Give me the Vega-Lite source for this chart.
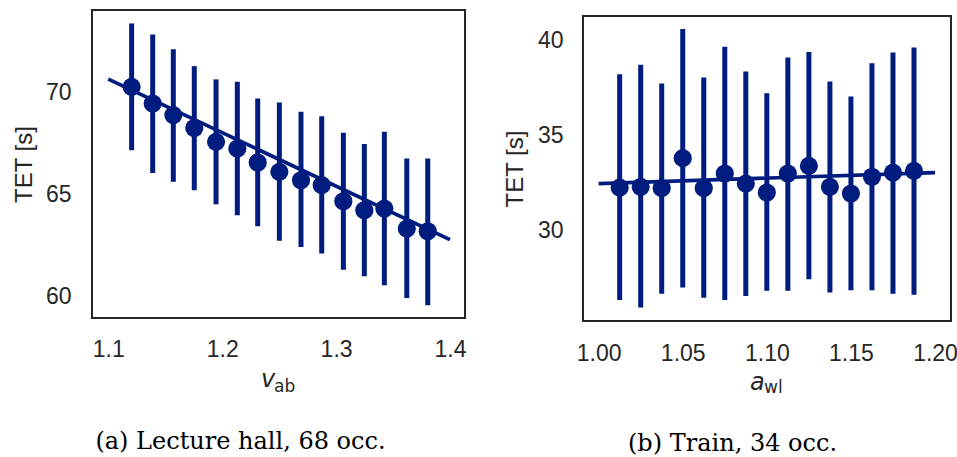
{
  "$schema": "https://vega.github.io/schema/vega-lite/v6.json",
  "background": "white",
  "padding": {"left": 11, "top": 9, "right": 0, "bottom": 0},
  "spacing": 35,
  "config": {
    "view": {"stroke": "#262626", "strokeWidth": 2},
    "axis": {"grid": false, "domain": false, "ticks": false, "tickSize": 0}
  },
  "datasets": {
    "lecture": [
      {"x": 1.1205, "mean": 70.28, "lo": 67.18, "hi": 73.39},
      {"x": 1.1390, "mean": 69.47, "lo": 66.07, "hi": 72.85},
      {"x": 1.1571, "mean": 68.90, "lo": 65.63, "hi": 72.13},
      {"x": 1.1755, "mean": 68.27, "lo": 65.22, "hi": 71.30},
      {"x": 1.1946, "mean": 67.59, "lo": 64.53, "hi": 70.65},
      {"x": 1.2133, "mean": 67.26, "lo": 64.00, "hi": 70.53},
      {"x": 1.2312, "mean": 66.58, "lo": 63.46, "hi": 69.72},
      {"x": 1.2502, "mean": 66.12, "lo": 62.74, "hi": 69.52},
      {"x": 1.2692, "mean": 65.71, "lo": 62.44, "hi": 69.06},
      {"x": 1.2874, "mean": 65.47, "lo": 62.12, "hi": 68.85},
      {"x": 1.3064, "mean": 64.68, "lo": 61.33, "hi": 68.03},
      {"x": 1.3248, "mean": 64.24, "lo": 61.00, "hi": 67.48},
      {"x": 1.3424, "mean": 64.32, "lo": 60.56, "hi": 68.08},
      {"x": 1.3621, "mean": 63.34, "lo": 59.94, "hi": 66.77},
      {"x": 1.3805, "mean": 63.21, "lo": 59.58, "hi": 66.77}
    ],
    "lectureFit": [
      {"x": 1.1, "y": 70.66},
      {"x": 1.4, "y": 62.80}
    ],
    "train": [
      {"x": 1.0125, "mean": 32.25, "lo": 26.33, "hi": 38.22},
      {"x": 1.025, "mean": 32.29, "lo": 25.94, "hi": 38.71},
      {"x": 1.0375, "mean": 32.22, "lo": 26.67, "hi": 37.73},
      {"x": 1.05, "mean": 33.80, "lo": 26.99, "hi": 40.59},
      {"x": 1.0625, "mean": 32.22, "lo": 26.46, "hi": 38.04},
      {"x": 1.075, "mean": 32.99, "lo": 26.33, "hi": 39.66},
      {"x": 1.0875, "mean": 32.46, "lo": 26.55, "hi": 38.36},
      {"x": 1.1, "mean": 31.99, "lo": 26.82, "hi": 37.22},
      {"x": 1.1125, "mean": 32.99, "lo": 26.82, "hi": 39.09},
      {"x": 1.125, "mean": 33.39, "lo": 27.43, "hi": 39.39},
      {"x": 1.1375, "mean": 32.29, "lo": 26.73, "hi": 37.83},
      {"x": 1.15, "mean": 31.94, "lo": 26.85, "hi": 37.04},
      {"x": 1.1625, "mean": 32.82, "lo": 26.85, "hi": 38.80},
      {"x": 1.175, "mean": 33.04, "lo": 26.67, "hi": 39.36},
      {"x": 1.1875, "mean": 33.13, "lo": 26.61, "hi": 39.62}
    ],
    "trainFit": [
      {"x": 1.0, "y": 32.46},
      {"x": 1.2, "y": 33.04}
    ]
  },
  "hconcat": [
    {
      "width": 373,
      "height": 308,
      "title": {"text": "(a) Lecture hall, 68 occ.", "orient": "bottom", "anchor": "middle", "dx": -38, "offset": 36, "font": "DejaVu Serif", "fontSize": 24, "fontWeight": "normal", "color": "black"},
      "resolve": {"axis": {"x": "independent"}},
      "layer": [
        {
          "data": {"name": "lecture"},
          "mark": {"type": "rule", "strokeWidth": 5, "color": "#001c7f"},
          "encoding": {
            "x": {"field": "x", "type": "quantitative",
              "scale": {"domain": [1.0857, 1.4132], "zero": false, "nice": false},
              "axis": {"values": [1.1, 1.2, 1.3, 1.4], "format": ".1f", "labelFont": "Liberation Sans", "labelFontSize": 23, "labelColor": "#262626", "labelPadding": 20,
                "title": "v", "titleFont": "DejaVu Sans", "titleFontStyle": "italic", "titleFontSize": 24, "titleFontWeight": "normal", "titleColor": "#262626",
                "titleX": 168.5, "titleY": 68.7, "titleAlign": "left", "titleBaseline": "alphabetic"}},
            "y": {"field": "lo", "type": "quantitative",
              "scale": {"domain": [58.96, 74.05], "zero": false, "nice": false},
              "axis": {"values": [60, 65, 70], "labelFont": "Liberation Sans", "labelFontSize": 23, "labelColor": "#262626", "labelPadding": 21,
                "title": "TET [s]", "titleFont": "Liberation Sans", "titleFontSize": 24, "titleFontWeight": "normal", "titleColor": "#262626",
                "titleX": -68, "titleY": 154, "titleAngle": -90, "titleAlign": "center", "titleBaseline": "middle"}},
            "y2": {"field": "hi"}
          }
        },
        {
          "data": {"name": "lecture"},
          "mark": {"type": "circle", "size": 330, "opacity": 1, "color": "#001c7f"},
          "encoding": {
            "x": {"field": "x", "type": "quantitative", "axis": null},
            "y": {"field": "mean", "type": "quantitative"}
          }
        },
        {
          "data": {"name": "lectureFit"},
          "mark": {"type": "line", "strokeWidth": 3.7, "color": "#001c7f"},
          "encoding": {
            "x": {"field": "x", "type": "quantitative",
              "axis": {"orient": "bottom", "labels": false, "title": "ab", "titleFont": "DejaVu Sans", "titleFontSize": 17, "titleFontWeight": "normal", "titleColor": "#262626",
                "titleX": 181.5, "titleY": 73, "titleAlign": "left", "titleBaseline": "alphabetic"}},
            "y": {"field": "y", "type": "quantitative"}
          }
        }
      ]
    },
    {
      "spacing": 4,
      "vconcat": [
        {
          "data": {"values": []},
          "mark": "point",
          "width": 368,
          "height": 1,
          "view": {"stroke": null}
        },
        {
          "width": 368,
          "height": 305,
          "title": {"text": "(b) Train, 34 occ.", "orient": "bottom", "anchor": "middle", "dx": -34.5, "offset": 36, "font": "DejaVu Serif", "fontSize": 24, "fontWeight": "normal", "color": "black"},
          "resolve": {"axis": {"x": "independent"}},
          "layer": [
            {
              "data": {"name": "train"},
              "mark": {"type": "rule", "strokeWidth": 5, "color": "#001c7f"},
              "encoding": {
                "x": {"field": "x", "type": "quantitative",
                  "scale": {"domain": [0.9907, 1.2095], "zero": false, "nice": false},
                  "axis": {"values": [1.0, 1.05, 1.1, 1.15, 1.2], "format": ".2f", "labelFont": "Liberation Sans", "labelFontSize": 23, "labelColor": "#262626", "labelPadding": 21,
                    "title": "a", "titleFont": "DejaVu Sans", "titleFontStyle": "italic", "titleFontSize": 24, "titleFontWeight": "normal", "titleColor": "#262626",
                    "titleX": 166.5, "titleY": 68.3, "titleAlign": "left", "titleBaseline": "alphabetic"}},
                "y": {"field": "lo", "type": "quantitative",
                  "scale": {"domain": [25.23, 41.28], "zero": false, "nice": false},
                  "axis": {"values": [30, 35, 40], "labelFont": "Liberation Sans", "labelFontSize": 23, "labelColor": "#262626", "labelPadding": 20,
                    "title": "TET [s]", "titleFont": "Liberation Sans", "titleFontSize": 24, "titleFontWeight": "normal", "titleColor": "#262626",
                    "titleX": -67.7, "titleY": 152.5, "titleAngle": -90, "titleAlign": "center", "titleBaseline": "middle"}},
                "y2": {"field": "hi"}
              }
            },
            {
              "data": {"name": "train"},
              "mark": {"type": "circle", "size": 330, "opacity": 1, "color": "#001c7f"},
              "encoding": {
                "x": {"field": "x", "type": "quantitative", "axis": null},
                "y": {"field": "mean", "type": "quantitative"}
              }
            },
            {
              "data": {"name": "trainFit"},
              "mark": {"type": "line", "strokeWidth": 3.7, "color": "#001c7f"},
              "encoding": {
                "x": {"field": "x", "type": "quantitative",
                  "axis": {"orient": "bottom", "labels": false, "title": "wl", "titleFont": "DejaVu Sans", "titleFontSize": 17, "titleFontWeight": "normal", "titleColor": "#262626",
                    "titleX": 180.5, "titleY": 71.7, "titleAlign": "left", "titleBaseline": "alphabetic"}},
                "y": {"field": "y", "type": "quantitative"}
              }
            }
          ]
        }
      ]
    }
  ]
}
